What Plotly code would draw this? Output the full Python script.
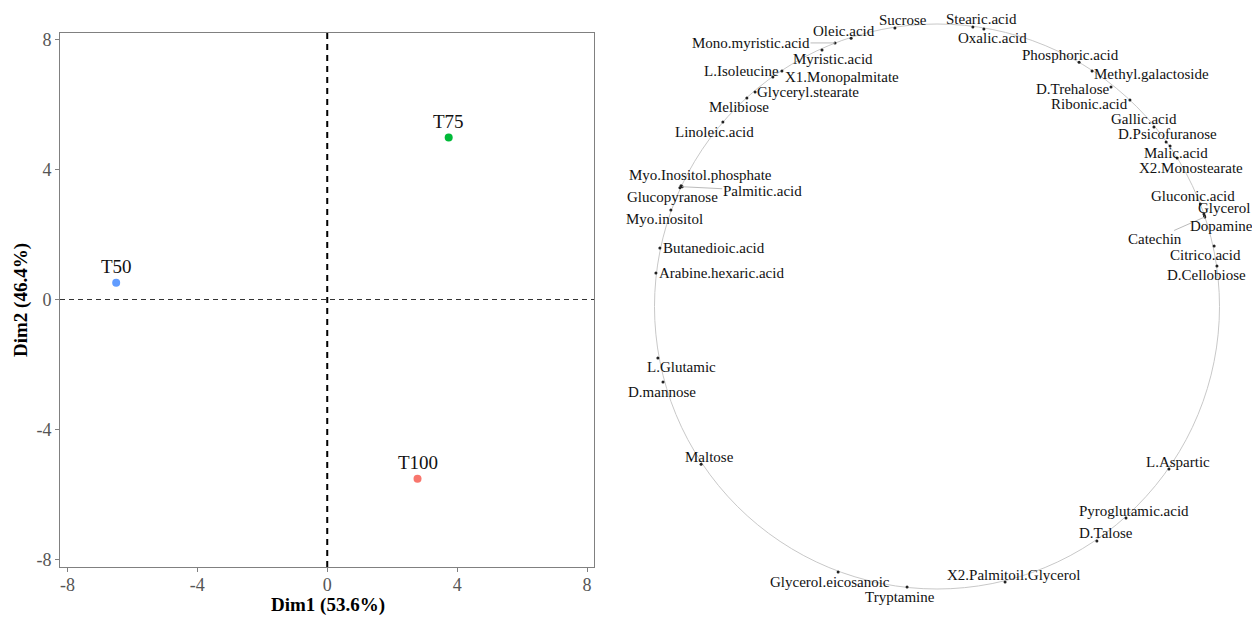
import plotly.graph_objects as go

# ---------------- data ----------------
samples = ["T100", "T75", "T50"]
dim1 = [2.78, 3.74, -6.50]
dim2 = [-5.52, 4.99, 0.52]
sample_colors = ["#F8766D", "#00BA38", "#619CFF"]

ticks = [-8, -4, 0, 4, 8]
tick_labels = ["-8", "-4", "0", "4", "8"]

var_names = [
    "Sucrose", "Oleic.acid", "Mono.myristic.acid", "Myristic.acid", "L.Isoleucine",
    "X1.Monopalmitate", "Glyceryl.stearate", "Melibiose", "Linoleic.acid",
    "Myo.Inositol.phosphate", "Glucopyranose", "Palmitic.acid", "Myo.inositol",
    "Butanedioic.acid", "Arabine.hexaric.acid", "L.Glutamic", "D.mannose", "Maltose",
    "Glycerol.eicosanoic", "Tryptamine", "X2.Palmitoil.Glycerol", "D.Talose",
    "Pyroglutamic.acid", "L.Aspartic", "D.Cellobiose", "Citrico.acid", "Catechin",
    "Dopamine", "Glycerol", "Gluconic.acid", "X2.Monostearate", "Malic.acid",
    "D.Psicofuranose", "Gallic.acid", "Ribonic.acid", "D.Trehalose",
    "Methyl.galactoside", "Phosphoric.acid", "Oxalic.acid", "Stearic.acid",
]
var_dim1 = [
    -0.149, -0.304, -0.361, -0.407, -0.549,
    -0.581, -0.644, -0.673, -0.758,
    -0.906, -0.910, -0.902, -0.942,
    -0.981, -0.995, -0.988, -0.970, -0.835,
    -0.350, -0.106, 0.241, 0.566,
    0.669, 0.821, 0.991, 0.981, 0.948,
    0.947, 0.945, 0.932, 0.850, 0.825,
    0.811, 0.768, 0.683, 0.616,
    0.549, 0.503, 0.166, 0.127,
]
var_dim2 = [
    0.986, 0.950, 0.933, 0.908, 0.834,
    0.812, 0.759, 0.738, 0.653,
    0.427, 0.420, 0.424, 0.342,
    0.207, 0.119, -0.182, -0.267, -0.558,
    -0.940, -0.993, -0.975, -0.830,
    -0.749, -0.575, 0.143, 0.214, 0.317,
    0.320, 0.327, 0.363, 0.526, 0.568,
    0.582, 0.635, 0.731, 0.777,
    0.834, 0.865, 0.982, 0.989,
]

# label placement (pixel offsets of label centre from its point; screen y down)
label_dx = [8, -7, -84, 11, -40, 69, 53, -8, -8, 19, -7, 80, -6, 54, 66, 24, -1, 8,
            -8, -7, 8, 9, 8, 9, -10, -9, -50, 17, 20, -7, 14, 6, 1, -10, -40, -38,
            59, -9, 9, 9]
label_dy = [-8, -7, 0, 9, 0, 0, 0, 9, 10, -11, 9, 4, 9, 0, 0, 9, 10, -7,
            10, 10, -7, -8, -7, -7, 9, 9, 22, 10, -6, -8, 10, 7, -8, -8, 4, 2,
            3, -7, 9, -8]
leader = {"Mono.myristic.acid", "Palmitic.acid", "Catechin"}

# ---------------- layout geometry ----------------
W, H = 1252, 617
SERIF = "Liberation Serif, Times New Roman, serif"

fig = go.Figure()

# left panel: individuals
fig.add_trace(go.Scatter(
    x=dim1, y=dim2, mode="markers",
    marker=dict(color=sample_colors, size=8),
    xaxis="x", yaxis="y", showlegend=False, hoverinfo="skip",
))
for s, x, y in zip(samples, dim1, dim2):
    fig.add_annotation(x=x, y=y, xref="x", yref="y", text=s, showarrow=False,
                       xanchor="center", yanchor="middle",
                       yshift=16, font=dict(family=SERIF, size=19, color="#111"))

# right panel: variables on the circle
fig.add_shape(type="circle", xref="x2", yref="y2", x0=-1, y0=-1, x1=1, y1=1,
              line=dict(color="#C8C8C8", width=1), layer="below")
fig.add_trace(go.Scatter(
    x=var_dim1, y=var_dim2, mode="markers",
    marker=dict(color="#222", size=3),
    xaxis="x2", yaxis="y2", showlegend=False, hoverinfo="skip",
))
for n, x, y, dx, dy in zip(var_names, var_dim1, var_dim2, label_dx, label_dy):
    if n in leader:
        fig.add_annotation(x=x, y=y, xref="x2", yref="y2", text=n,
                           showarrow=True, arrowhead=0, arrowwidth=1,
                           arrowcolor="#BBBBBB", ax=dx, ay=dy, standoff=0,
                           borderpad=0, xanchor="center", yanchor="middle",
                           font=dict(family=SERIF, size=15, color="#111"))
    else:
        fig.add_annotation(x=x, y=y, xref="x2", yref="y2", text=n,
                           showarrow=False, xshift=dx, yshift=-dy,
                           xanchor="center", yanchor="middle",
                           font=dict(family=SERIF, size=15, color="#111"))

# reference dashed lines
fig.add_shape(type="line", xref="x", yref="y domain", x0=0, x1=0, y0=0, y1=1,
              line=dict(color="#000", width=2, dash="6px,5px"))
fig.add_shape(type="line", xref="x domain", yref="y", x0=0, x1=1, y0=0, y1=0,
              line=dict(color="#333", width=1, dash="5px,4px"))

# axis titles
fig.add_annotation(x=328 / W, y=1 - 605 / H, xref="paper", yref="paper",
                   xanchor="center", yanchor="middle",
                   text="<b>Dim1 (53.6%)</b>", showarrow=False,
                   font=dict(family=SERIF, size=19, color="#000"))
fig.add_annotation(x=21 / W, y=1 - 300 / H, xref="paper", yref="paper",
                   xanchor="center", yanchor="middle",
                   text="<b>Dim2 (46.4%)</b>", showarrow=False, textangle=-90,
                   font=dict(family=SERIF, size=19, color="#000"))

axis_common = dict(
    showgrid=False, zeroline=False, showline=True, mirror=True,
    linecolor="#808080", linewidth=1, ticks="outside", ticklen=4,
    tickcolor="#808080", tickwidth=1, automargin=False,
    tickfont=dict(family=SERIF, size=18, color="#555"),
    tickmode="array", tickvals=ticks, ticktext=tick_labels,
)

fig.update_layout(
    width=W, height=H,
    margin=dict(l=0, r=0, t=0, b=0, pad=0),
    paper_bgcolor="white", plot_bgcolor="white",
    showlegend=False,
    xaxis=dict(domain=[60 / W, 594 / W], range=[-8.23, 8.215], anchor="y",
               ticklabelstandoff=-3, **axis_common),
    yaxis=dict(domain=[1 - 567 / H, 1 - 33 / H], range=[-8.24, 8.21], anchor="x",
               **axis_common),
    xaxis2=dict(domain=[626.25 / W, 1247.75 / W], range=[-1.1, 1.1], anchor="y2",
                visible=False),
    yaxis2=dict(domain=[1 - 611.6 / H, 1 - 1.4 / H], range=[-1.08, 1.08],
                anchor="x2", visible=False),
)

fig.write_html(
    "out.html",
    config={"displayModeBar": False},
    post_script="document.body.style.margin='0';document.body.style.overflow='hidden';",
)
